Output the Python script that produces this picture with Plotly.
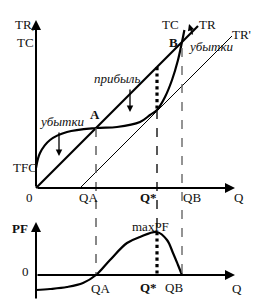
import plotly.graph_objects as go

# ---- data (economic units) ----
q_tc = [0, 0.2, 0.7, 1.55, 3.0, 4.05, 5.2, 5.7, 6.05, 6.45, 6.8, 7.1, 7.3, 7.42]
tc = [1.0, 1.75, 2.4, 2.8, 3.0, 3.05, 3.3, 3.65, 3.9, 4.55, 5.4, 6.4, 7.3, 7.9]
q_tr = [0, 8.1]
tr = [0, 8.1]
q_trp = [2.2, 9.8]
trp = [0, 7.6]
q_pf = [0, 0.7, 1.55, 2.35, 3.0, 3.7, 4.55, 5.2, 6.05, 6.55, 6.85, 7.1, 7.3]
pf = [-0.75, -0.7, -0.6, -0.4, 0, 0.75, 1.6, 1.9, 2.15, 1.75, 1.1, 0.5, 0]
qa, q_star, qb = 3.0, 6.05, 7.3
tc_star, tr_star, pf_max = 3.9, 6.05, 2.15
tfc = 1.0

W, H = 275, 307
FONT = "Times New Roman, Liberation Serif, DejaVu Serif, serif"

fig = go.Figure()
# top chart
fig.add_trace(go.Scatter(x=q_tr, y=tr, mode="lines", line=dict(color="black", width=2.2), yaxis="y"))
fig.add_trace(go.Scatter(x=q_trp, y=trp, mode="lines", line=dict(color="black", width=1), yaxis="y"))
fig.add_trace(go.Scatter(x=q_tc, y=tc, mode="lines", line=dict(color="black", width=2.2, shape="spline"), yaxis="y"))
# bottom chart
fig.add_trace(go.Scatter(x=q_pf, y=pf, mode="lines", line=dict(color="black", width=2.2, shape="spline"), yaxis="y2"))

# dashed guides
def vline(x, y0, y1, yref, color="#444", width=1.4, dash="dash"):
    fig.add_shape(type="line", x0=x, x1=x, y0=y0, y1=y1, xref="x", yref=yref,
                  line=dict(color=color, width=width, dash=dash))

vline(qa, qa, -4.35, "y", color="#555")
vline(q_star, tc_star, -2.2, "y", color="#111")
vline(qb, qb - 0.3, -4.35, "y", color="#666")
vline(q_star, tr_star, tc_star, "y", color="black", width=3.2, dash="dot")
vline(q_star, pf_max, 0, "y2", color="black", width=3.2, dash="dot")

# axes with arrows
def arrow(x0, y0, x1, y1, yref, width=2, head=2, size=1.0):
    fig.add_annotation(x=x1, y=y1, ax=x0, ay=y0, xref="x", yref=yref, axref="x", ayref=yref,
                       showarrow=True, arrowhead=head, arrowsize=size, arrowwidth=width,
                       arrowcolor="black", text="")

arrow(0, 0, 0, 8.4, "y")
arrow(0, 0, 9.95, 0, "y")
arrow(0, -1.25, 0, 2.65, "y2")
arrow(0, 0, 9.95, 0, "y2")

# pointer arrows (pixel positions -> paper head, pixel offset tail)
def parrow(x0, y0, x1, y1):
    fig.add_annotation(x=x1 / W, y=1 - y1 / H, ax=x0 - x1, ay=y0 - y1, xref="paper", yref="paper",
                       axref="pixel", ayref="pixel", showarrow=True, arrowhead=2, arrowsize=1,
                       arrowwidth=1.3, arrowcolor="black", text="")

parrow(130, 88, 130, 112)
parrow(59, 131, 59, 156)
parrow(193, 36, 189, 24)

def label(txt, x, y, size=13, bold=False, italic=False):
    if bold:
        txt = "<b>" + txt + "</b>"
    if italic:
        txt = "<i>" + txt + "</i>"
    fig.add_annotation(x=x / W, y=1 - y / H, xref="paper", yref="paper", text=txt, showarrow=False,
                       font=dict(family=FONT, size=size, color="#111"), xanchor="center", yanchor="middle")

label("TR,", 25, 24)
label("TC", 25, 42)
label("прибыль", 117, 78, italic=True)
label("TC", 170, 24)
label("TR", 207, 24)
label("TR'", 241, 34)
label("B", 173, 42, bold=True)
label("убытки", 211, 46, italic=True)
label("убытки", 62, 122, italic=True)
label("A", 95, 115, bold=True)
label("TFC", 25, 167)
label("0", 29, 198)
label("QA", 88, 198)
label("Q*", 148, 198, bold=True)
label("QB", 192, 198)
label("Q", 239, 198)
label("PF", 20, 228, bold=True)
label("0", 25, 271)
label("QA", 100, 288)
label("maxPF", 150, 226)
label("Q*", 148, 287, bold=True)
label("QB", 174, 287)
label("Q", 237, 288)

fig.update_layout(
    width=W, height=H, margin=dict(l=0, r=0, t=0, b=0),
    font=dict(family=FONT),
    paper_bgcolor="white", plot_bgcolor="white", showlegend=False,
    xaxis=dict(range=[-36 / 20, (W - 36) / 20], visible=False, domain=[0, 1]),
    yaxis=dict(range=[(188 - H) / 20, 188 / 20], visible=False, domain=[0, 1]),
    yaxis2=dict(range=[(275 - H) / 20, 275 / 20], visible=False, overlaying="y"),
)
fig.write_html("out.html")
